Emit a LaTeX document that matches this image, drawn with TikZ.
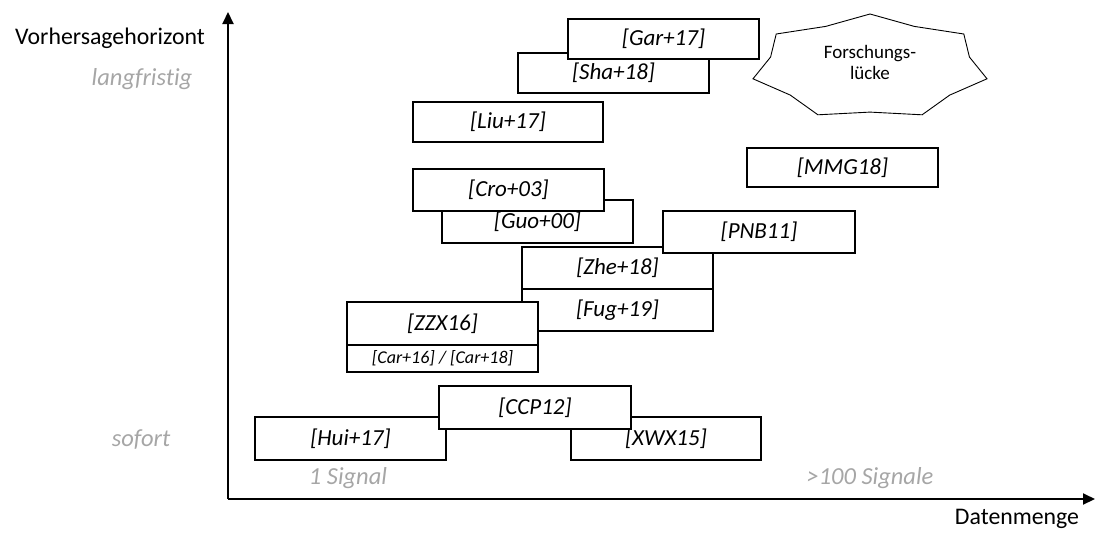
\documentclass[tikz,border=0pt]{standalone}
\usepackage{fontspec}
\setmainfont{Carlito}[Ligatures={NoCommon}]
\usetikzlibrary{arrows.meta}
\definecolor{hint}{HTML}{A6A6A6}
\tikzset{
  axis/.style={line width=2pt, -{Triangle[length=12pt,width=11pt]}},
  litframe/.style={draw, line width=1.2pt, fill=white, inner sep=0pt,
    font=\fontsize{23}{27}\selectfont\itshape},
  axislabel/.style={font=\fontsize{23.8}{27}\selectfont, inner sep=0pt},
  hintlabel/.style={font=\fontsize{24.5}{28}\selectfont\itshape, text=hint, inner sep=0pt},
  gapstar/.style={draw, line width=0.9pt, fill=white},
  gaplabel/.style={font=\fontsize{19}{21}\selectfont, align=center, inner sep=0pt}
}
% literature box: options, name, left, top, right, bottom, label
\newcommand\refnode[7][]{%
  \node[litframe, minimum width={(#5-#3)*1pt}, minimum height={(#6-#4)*1pt}, #1]
    (#2) at ({(#3+#5)/2},{(#4+#6)/2}) {#7};}
\begin{document}
\begin{tikzpicture}[x=1pt,y=-1pt]
\useasboundingbox (0,0) rectangle (1095,533);

% axes
\coordinate (origin) at (228,499);
\coordinate (ytip) at (228,12);
\coordinate (xtip) at (1095,499);
\draw[axis] (origin) -- (ytip);
\draw[axis] (origin) -- (xtip);

\node[axislabel] (ylab) at (110,38) {Vorhersagehorizont};
\node[axislabel] (xlab) at (1017,519) {Datenmenge};

\node[hintlabel] (long) at (142,79) {langfristig};
\node[hintlabel] (now) at (141,440) {sofort};
\node[hintlabel] (one) at (348,478) {1 Signal};
\node[hintlabel] (many) at (870,478) {>100 Signale};

% literature boxes, back to front
\refnode{sha}{518}{53}{709}{93}{\raisebox{-1pt}{[Sha+18]}}
\refnode{gar}{568}{19}{759}{59}{\raisebox{-2pt}{[Gar+17]}}
\refnode{liu}{413}{102}{603}{142}{\raisebox{-2pt}{[Liu+17]}}
\refnode{mmg}{747}{148}{938}{187}{\raisebox{-2pt}{[MMG18]}}
\refnode{guo}{442}{200}{633}{243}{\raisebox{1pt}{[Guo+00]}}
\refnode{cro}{413}{169}{604}{211}{\raisebox{4pt}{[Cro+03]}}
\refnode{zhe}{522}{247}{713}{289}{[Zhe+18]}
\refnode{pnb}{663}{211}{855}{253}{\raisebox{-1pt}{[PNB11]}}
\refnode{fug}{522}{289}{713}{331}{[Fug+19]}
\refnode{zzx}{347}{302}{538}{345}{\raisebox{-1pt}{[ZZX16]}}
\refnode[font=\fontsize{18}{21}\selectfont\itshape]{car}{347}{345}{538}{372}{[Car+16] / [Car+18]}
\refnode{hui}{255}{417}{446}{460}{[Hui+17]}
\refnode{xwx}{571}{417}{761}{460}{[XWX15]}
\refnode{ccp}{439}{386}{631}{429}{[CCP12]}

% research gap: seven-pointed star
\draw[gapstar] (870,14) -- (825.7,26.4) -- (776.2,34.0) -- (770.6,57.0)
  -- (753.0,78.8) -- (790.3,95.1) -- (817.9,114.8) -- (870,112.1)
  -- (922.1,114.8) -- (949.7,95.1) -- (987.0,78.8) -- (969.4,57.0)
  -- (963.8,34.0) -- (914.3,26.4) -- cycle;
\node[gaplabel] (gap) at (870,62) {Forschungs-\\lücke};
\end{tikzpicture}
\end{document}
